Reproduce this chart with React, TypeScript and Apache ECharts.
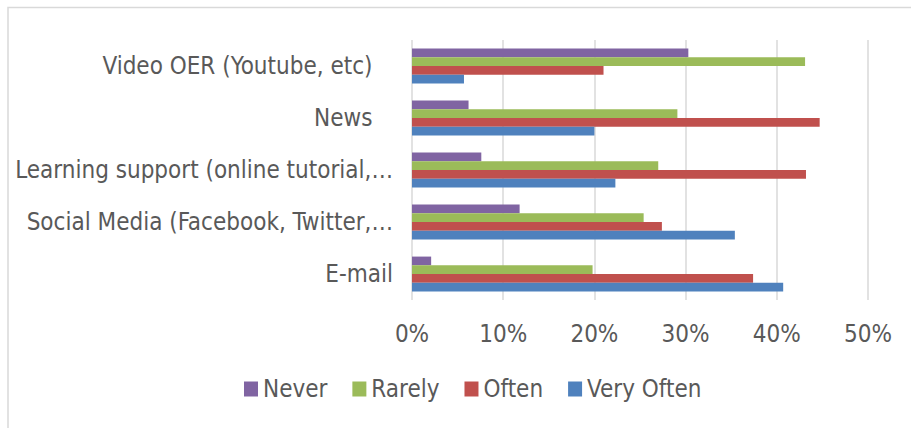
import React, { useEffect, useRef } from "react";
import * as echarts from "echarts";

const categories = [
  "E-mail",
  "Social Media (Facebook, Twitter,…",
  "Learning support (online tutorial,…",
  "News\u00a0\u00a0\u00a0",
  "Video OER (Youtube, etc)\u00a0\u00a0\u00a0",
];
const seriesNames = ["Never", "Rarely", "Often", "Very Often"];
const never = [2.1, 11.8, 7.6, 6.2, 30.3];
const rarely = [19.8, 25.4, 27.0, 29.1, 43.1];
const often = [37.4, 27.4, 43.2, 44.7, 21.0];
const veryOften = [40.7, 35.4, 22.3, 20.0, 5.7];
const xTicks = [0, 10, 20, 30, 40, 50];

const colors = ["#8064A2", "#9BBB59", "#C0504D", "#4F81BD"];
const FONT = "DejaVu Sans Condensed";

export default function App() {
  const ref = useRef<HTMLDivElement>(null);
  useEffect(() => {
    document.body.style.margin = "0";
    if (!ref.current) return;
    const chart = echarts.init(ref.current, undefined, { renderer: "svg" });
    const values = [never, rarely, often, veryOften];
    chart.setOption({
      animation: false,
      backgroundColor: "#ffffff",
      textStyle: { fontFamily: FONT },
      graphic: [
        {
          type: "rect",
          shape: { x: 8, y: 7.5, width: 1000, height: 1000 },
          style: { fill: "none", stroke: "#d9d9d9", lineWidth: 1.5 },
          silent: true,
        },
      ],
      legend: {
        data: seriesNames,
        bottom: 22,
        left: 239,
        itemWidth: 14,
        itemHeight: 15,
        itemGap: 25,
        icon: "rect",
        textStyle: { fontFamily: FONT, fontSize: 24, color: "#595959" },
      },
      grid: {
        left: 412,
        right: 43,
        top: 40,
        bottom: 128,
        outerBoundsMode: "none",
      },
      xAxis: {
        type: "value",
        min: xTicks[0],
        max: xTicks[xTicks.length - 1],
        interval: 10,
        axisLine: { show: false },
        axisTick: { show: false },
        splitLine: { show: true, lineStyle: { color: "#d9d9d9", width: 1.5 } },
        axisLabel: {
          formatter: "{value}%",
          fontFamily: FONT,
          fontSize: 24,
          color: "#595959",
          margin: 22,
        },
      },
      yAxis: {
        type: "category",
        data: categories,
        axisLine: { show: false },
        axisTick: { show: false },
        axisLabel: {
          fontFamily: FONT,
          fontSize: 24,
          color: "#595959",
          margin: 19,
        },
      },
      series: seriesNames.map((name, i) => ({
        name,
        type: "bar",
        data: values[i],
        barGap: "0%",
        barCategoryGap: "33%",
        itemStyle: { color: colors[i] },
      })),
    });
    return () => chart.dispose();
  }, []);
  return <div ref={ref} style={{ width: 911, height: 428 }} />;
}
